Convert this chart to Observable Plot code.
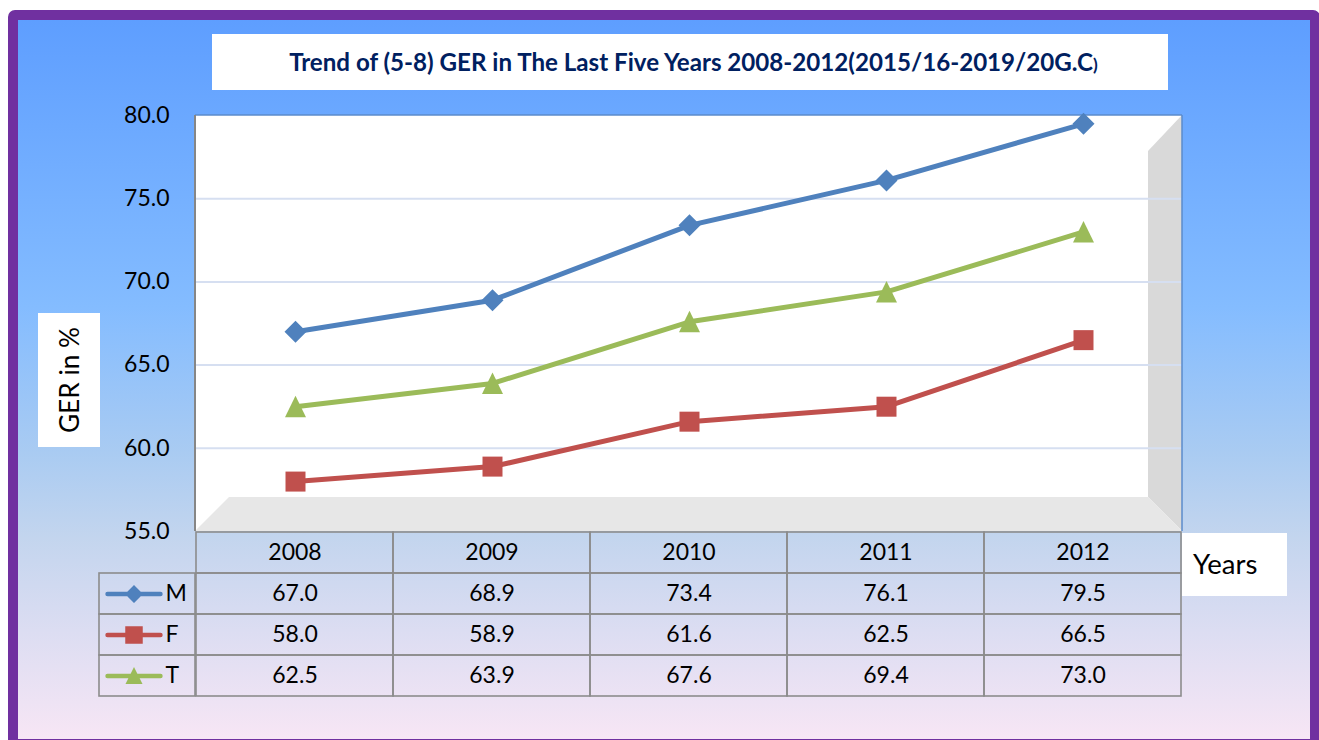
<!DOCTYPE html>
<html>
<head>
<meta charset="utf-8">
<script src="https://cdn.jsdelivr.net/npm/d3@7"></script>
<script src="https://cdn.jsdelivr.net/npm/@observablehq/plot@0.6"></script>
<style>
  body { margin: 0; background: #fff; }
  #wrap { position: relative; width: 1319px; height: 740px; overflow: hidden; font-family: Lato, "Open Sans", sans-serif; }
  #bg { position: absolute; left: 8px; top: 10px; width: 1312px; height: 739px; box-sizing: border-box;
        border: 10.5px solid #7030A0; border-radius: 7px;
        background: linear-gradient(to bottom, #5E9EFF 0%, #84BCFF 40%, #A9CBF2 60%, #C3D5EE 72%, #DCDDF2 85%, #F7E6F5 100%); }
  #titlebox { position: absolute; left: 212px; top: 34px; width: 956px; height: 56px; background: #fff;
              display: flex; align-items: center; justify-content: center; padding-left: 7px; box-sizing: border-box; }
  #title { font-weight: 700; color: #002060; font-size: 21px; white-space: nowrap; line-height: 1; }
  #ylabbox { position: absolute; left: 38px; top: 313px; width: 62px; height: 134px; background: #fff; }
  #ylab { position: absolute; left: 50%; top: 50%; transform: translate(-50%, -50%) rotate(-90deg); white-space: nowrap; font-size: 26px; color: #000; line-height: 1; }
  #yearsbox { position: absolute; left: 1182px; top: 533px; width: 105px; height: 63px; background: #fff; }
  #years { position: absolute; left: 11px; top: 17px; font-size: 25px; color: #000; line-height: 1; white-space: nowrap; }
  .layer { position: absolute; left: 0; }
</style>
</head>
<body>
<div id="wrap">
  <div id="bg"></div>
  <div id="titlebox"><span id="title"></span></div>
  <div id="ylabbox"><span id="ylab"></span></div>
  <div id="main" class="layer" style="top:0"></div>
  <div id="legend" class="layer" style="top:530px"></div>
  <div id="table" class="layer" style="top:530px"></div>
  <div id="yearsbox"><span id="years"></span></div>
</div>
<script>
// ---------- data ----------
const years = ["2008", "2009", "2010", "2011", "2012"];
const seriesNames = ["M", "F", "T"];
const valuesM = [67.0, 68.9, 73.4, 76.1, 79.5];
const valuesF = [58.0, 58.9, 61.6, 62.5, 66.5];
const valuesT = [62.5, 63.9, 67.6, 69.4, 73.0];
const yTicks = [55, 60, 65, 70, 75, 80];
const seriesColors = ["#4F81BD", "#C0504D", "#9BBB59"];
const titleText = "Trend of (5-8) GER in The Last Five Years 2008-2012(2015/16-2019/20G.C";
const titleClose = ")";
const yLabelText = "GER in %";
const xLabelText = "Years";

const seriesValues = [valuesM, valuesF, valuesT];
const rows = seriesNames.flatMap((s, i) => years.map((y, j) => ({series: s, year: y, value: seriesValues[i][j]})));
const fmt = d3.format(".1f");
const FONT = "Lato, 'Open Sans', sans-serif";

// ---------- texts ----------
const titleEl = document.getElementById("title");
titleEl.textContent = titleText;
const closeSpan = document.createElement("span");
closeSpan.textContent = titleClose;
closeSpan.style.fontSize = "0.72em";
titleEl.appendChild(closeSpan);
document.getElementById("ylab").textContent = yLabelText;
document.getElementById("years").textContent = xLabelText;

function fitWidth(id, target) {
  const el = document.getElementById(id);
  const w = el.offsetWidth;
  const fs = parseFloat(getComputedStyle(el).fontSize);
  if (w > 0) el.style.fontSize = (fs * target / w) + "px";
}

// ---------- symbols ----------
const diamondSym = {draw(c) { c.moveTo(0, -11); c.lineTo(11, 0); c.lineTo(0, 11); c.lineTo(-11, 0); c.closePath(); }};
const squareSym = {draw(c) { c.rect(-10, -10, 20, 20); }};
const triangleSym = {draw(c) { c.moveTo(0, -11); c.lineTo(10.5, 10.5); c.lineTo(-10.5, 10.5); c.closePath(); }};
const chartSymbols = [diamondSym, squareSym, triangleSym];

function legendSym(kind) {
  return {draw(c) {
    const h = 26.5, t = 2.2;
    c.moveTo(-h, -t); c.lineTo(h, -t); c.arc(h, 0, t, -Math.PI / 2, Math.PI / 2);
    c.lineTo(-h, t); c.arc(-h, 0, t, Math.PI / 2, 3 * Math.PI / 2); c.closePath();
    if (kind === 0) { c.moveTo(0, -9); c.lineTo(9, 0); c.lineTo(0, 9); c.lineTo(-9, 0); c.closePath(); }
    else if (kind === 1) { c.rect(-8.75, -8.75, 17.5, 17.5); }
    else { c.moveTo(0, -9); c.lineTo(8.5, 8); c.lineTo(-8.5, 8); c.closePath(); }
  }};
}

// ---------- 3D walls & frame ----------
function wallsMark(index, scales, values, dims) {
  const L = dims.marginLeft, R = dims.width - dims.marginRight, T = dims.marginTop, B = dims.height - dims.marginBottom, d = 34;
  const g = d3.create("svg:g");
  g.append("rect").attr("x", L).attr("y", T).attr("width", R - L).attr("height", B - T).attr("fill", "#fff");
  g.append("polygon").attr("points", `${R - d},${T + d + 2} ${R},${T} ${R},${B} ${R - d},${B - d}`).attr("fill", "#D9D9D9");
  g.append("polygon").attr("points", `${L},${B} ${L + d},${B - d} ${R - d},${B - d} ${R},${B}`).attr("fill", "#E7E7E7");
  return g.node();
}
function borderMark(index, scales, values, dims) {
  const L = dims.marginLeft, R = dims.width - dims.marginRight, T = dims.marginTop, B = dims.height - dims.marginBottom;
  const g = d3.create("svg:g");
  g.append("line").attr("x1", L).attr("x2", R).attr("y1", T).attr("y2", T).attr("stroke", "#5B8BCB").attr("stroke-width", 1.5);
  g.append("line").attr("x1", R).attr("x2", R).attr("y1", T).attr("y2", B).attr("stroke", "#5B8BCB").attr("stroke-width", 1.5);
  g.append("line").attr("x1", L).attr("x2", L).attr("y1", T).attr("y2", B).attr("stroke", "#868686").attr("stroke-width", 2);
  return g.node();
}

// ---------- main chart ----------
const main = Plot.plot({
  width: 1319, height: 532,
  marginLeft: 195, marginRight: 137, marginTop: 115, marginBottom: 1,
  style: {background: "transparent", fontFamily: FONT, fontSize: "23px", color: "#000", overflow: "visible"},
  x: {type: "point", domain: years, padding: 0.5, axis: null},
  y: {domain: [55, 80], axis: null},
  color: {domain: seriesNames, range: seriesColors},
  marks: [
    wallsMark,
    Plot.gridY(yTicks.filter(t => t > 55 && t < 80), {stroke: "#D6DFF1", strokeOpacity: 1, strokeWidth: 2}),
    Plot.axisY({ticks: yTicks, tickSize: 0, tickPadding: 26, tickFormat: fmt, label: null, fontSize: 23, fill: "#000"}),
    borderMark,
    Plot.line(rows, {x: "year", y: "value", z: "series", stroke: "series", strokeWidth: 5}),
    ...seriesNames.map((s, i) => Plot.dot(rows.filter(r => r.series === s), {x: "year", y: "value", symbol: chartSymbols[i], fill: seriesColors[i], r: 10}))
  ]
});
document.getElementById("main").appendChild(main);

// ---------- data table ----------
const rowKeys = ["year", ...seriesNames];
const cellStroke = "#8C8C8C";
const table = Plot.plot({
  width: 1319, height: 168,
  marginLeft: 195, marginRight: 137, marginTop: 1, marginBottom: 1,
  style: {background: "transparent", fontFamily: FONT, fontSize: "23px", color: "#000", overflow: "visible"},
  x: {type: "band", domain: years, padding: 0, axis: null},
  y: {type: "band", domain: rowKeys, padding: 0, axis: null},
  marks: [
    Plot.cell(years, {x: d => d, y: () => "year", fill: "none", stroke: cellStroke, strokeWidth: 1.6}),
    Plot.text(years, {x: d => d, y: () => "year", text: d => d, fill: "#000", fontSize: 23}),
    Plot.cell(rows, {x: "year", y: "series", fill: "none", stroke: cellStroke, strokeWidth: 1.6}),
    Plot.text(rows, {x: "year", y: "series", text: d => fmt(d.value), fill: "#000", fontSize: 23})
  ]
});
document.getElementById("table").appendChild(table);

const legend = Plot.plot({
  width: 1319, height: 168,
  marginLeft: 99, marginRight: 1124, marginTop: 1, marginBottom: 1,
  style: {background: "transparent", fontFamily: FONT, fontSize: "23px", color: "#000", overflow: "visible"},
  y: {type: "band", domain: rowKeys, padding: 0, axis: null},
  marks: [
    Plot.cell(seriesNames, {y: d => d, fill: "none", stroke: cellStroke, strokeWidth: 1.6}),
    ...seriesNames.map((s, i) => Plot.dot([s], {y: d => d, frameAnchor: "left", dx: 34.5, symbol: legendSym(i), fill: seriesColors[i], r: 10})),
    Plot.text(seriesNames, {y: d => d, text: d => d, frameAnchor: "left", textAnchor: "start", dx: 66, fill: "#000", fontSize: 23})
  ]
});
document.getElementById("legend").appendChild(legend);

fitWidth("title", 809);
fitWidth("ylab", 106);
fitWidth("years", 64);
</script>
</body>
</html>
